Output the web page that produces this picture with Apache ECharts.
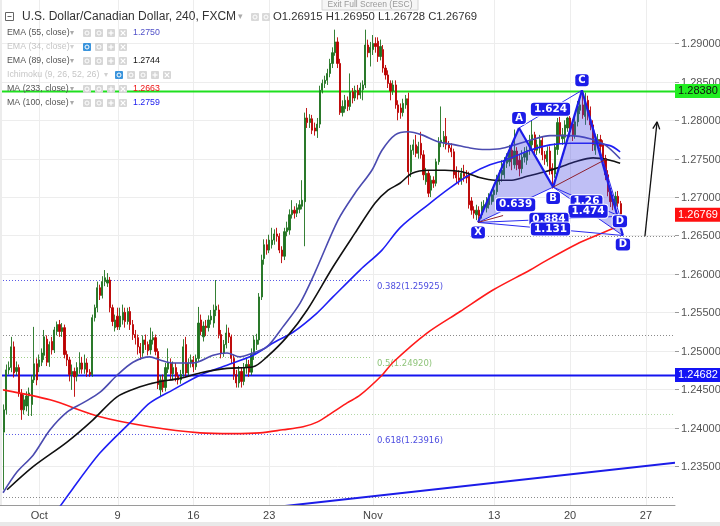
<!DOCTYPE html>
<html><head><meta charset="utf-8">
<script src="https://cdn.jsdelivr.net/npm/echarts@6/dist/echarts.min.js"></script>
<style>html,body{margin:0;padding:0;background:#fff}#c{width:720px;height:526px}</style>
</head><body><div id="c"></div>
<script>
// ---------- DATA ----------
const dateLabels = ['Oct','9','16','23','Nov','13','20','27'];
const dateIndex  = [15,46,76,106,147,195,225,255];
const barCount = 267;
const yTicks = [1.235,1.24,1.245,1.25,1.255,1.26,1.265,1.27,1.275,1.28,1.285,1.29];

const opens = [1.2394,1.2423,1.2475,1.2478,1.2505,1.2473,1.2478,1.2444,1.2423,1.2428,
1.2441,1.2430,1.2462,1.2483,1.2479,1.2485,1.2494,1.2515,1.2485,1.2512,
1.2501,1.2525,1.2534,1.2525,1.2530,1.2495,1.2488,1.2469,1.2473,1.2467,
1.2476,1.2484,1.2476,1.2484,1.2472,1.2469,1.2543,1.2556,1.2582,1.2572,
1.2590,1.2588,1.2592,1.2556,1.2530,1.2545,1.2531,1.2540,1.2550,1.2538,
1.2551,1.2534,1.2521,1.2517,1.2505,1.2497,1.2514,1.2508,1.2501,1.2514,
1.2517,1.2499,1.2449,1.2462,1.2452,1.2476,1.2484,1.2470,1.2478,1.2467,
1.2462,1.2470,1.2508,1.2471,1.2484,1.2488,1.2479,1.2490,1.2540,1.2518,
1.2532,1.2530,1.2540,1.2536,1.2553,1.2553,1.2521,1.2497,1.2508,1.2523,
1.2518,1.2490,1.2469,1.2458,1.2473,1.2460,1.2478,1.2482,1.2472,1.2495,
1.2508,1.2514,1.2570,1.2620,1.2638,1.2631,1.2638,1.2644,1.2652,1.2649,
1.2631,1.2623,1.2655,1.2657,1.2677,1.2683,1.2679,1.2684,1.2688,1.2694,
1.2803,1.2797,1.2802,1.2790,1.2786,1.2795,1.2839,1.2848,1.2852,1.2861,
1.2874,1.2888,1.2902,1.2874,1.2810,1.2815,1.2826,1.2818,1.2837,1.2829,
1.2839,1.2833,1.2840,1.2846,1.2898,1.2888,1.2892,1.2900,1.2903,1.2883,
1.2892,1.2868,1.2859,1.2848,1.2838,1.2846,1.2820,1.2816,1.2810,1.2820,
1.2828,1.2733,1.2761,1.2768,1.2757,1.2770,1.2755,1.2720,1.2731,1.2709,
1.2722,1.2718,1.2746,1.2771,1.2770,1.2779,1.2768,1.2764,1.2759,1.2733,
1.2725,1.2722,1.2731,1.2727,1.2729,1.2695,1.2683,1.2677,1.2683,1.2677,
1.2685,1.2686,1.2690,1.2694,1.2703,1.2707,1.2720,1.2729,1.2729,1.2744,
1.2746,1.2761,1.2742,1.2760,1.2748,1.2737,1.2752,1.2748,1.2761,1.2768,
1.2781,1.2761,1.2764,1.2774,1.2755,1.2746,1.2760,1.2738,1.2730,1.2762,
1.2797,1.2776,1.2778,1.2790,1.2803,1.2795,1.2781,1.2798,1.2813,1.2820,
1.2805,1.2826,1.2813,1.2794,1.2761,1.2770,1.2775,1.2768,1.2750,1.2729,
1.2707,1.2697,1.2690,1.2701,1.26915];

const closes = [1.2423,1.2475,1.2478,1.2505,1.2471,1.2478,1.2444,1.2423,1.2436,1.2441,
1.2445,1.2462,1.2483,1.2462,1.2488,1.2497,1.2518,1.2485,1.2508,1.2501,
1.2527,1.2534,1.2525,1.2530,1.2495,1.2488,1.2469,1.2473,1.2466,1.2478,
1.2484,1.2476,1.2484,1.2472,1.2469,1.2543,1.2556,1.2582,1.2572,1.2590,
1.2595,1.2592,1.2556,1.2538,1.2540,1.2531,1.2545,1.2550,1.2538,1.2551,
1.2534,1.2521,1.2517,1.2505,1.2497,1.2514,1.2508,1.2500,1.2514,1.2517,
1.2499,1.2456,1.2462,1.2452,1.2478,1.2484,1.2470,1.2478,1.2467,1.2462,
1.2469,1.2505,1.2471,1.2484,1.2488,1.2479,1.2490,1.2536,1.2525,1.2532,
1.2530,1.2540,1.2545,1.2553,1.2558,1.2521,1.2497,1.2508,1.2523,1.2518,
1.2490,1.2469,1.2458,1.2473,1.2460,1.2478,1.2482,1.2472,1.2495,1.2514,
1.2514,1.2570,1.2618,1.2638,1.2631,1.2644,1.2644,1.2652,1.2649,1.2631,
1.2623,1.2655,1.2660,1.2677,1.2683,1.2679,1.2686,1.2690,1.2696,1.2803,
1.2797,1.2802,1.2787,1.2786,1.2795,1.2839,1.2848,1.2852,1.2861,1.2874,
1.2888,1.2902,1.2874,1.2810,1.2818,1.2826,1.2818,1.2837,1.2829,1.2839,
1.2833,1.2842,1.2846,1.2898,1.2888,1.2895,1.2900,1.2896,1.2883,1.2896,
1.2868,1.2859,1.2848,1.2838,1.2846,1.2820,1.2810,1.2810,1.2822,1.2828,
1.2733,1.2761,1.2768,1.2757,1.2766,1.2755,1.2729,1.2731,1.2705,1.2722,
1.2718,1.2746,1.2771,1.2774,1.2779,1.2768,1.2764,1.2759,1.2729,1.2725,
1.2722,1.2731,1.2727,1.2725,1.2690,1.2683,1.2679,1.2683,1.2675,1.2688,
1.2690,1.2694,1.2699,1.2703,1.2709,1.2722,1.2729,1.2735,1.2746,1.2751,
1.2761,1.2750,1.2760,1.2742,1.2737,1.2752,1.2757,1.2761,1.2774,1.2781,
1.2761,1.2768,1.2774,1.2755,1.2750,1.2760,1.2735,1.2730,1.2765,1.2797,
1.2781,1.2781,1.2794,1.2803,1.2785,1.2781,1.2798,1.2818,1.2820,1.2807,
1.2826,1.2810,1.2794,1.2768,1.2774,1.2775,1.2766,1.2750,1.2729,1.2707,
1.2694,1.2690,1.2701,1.2692,1.26769];

const lows = [1.2319,1.2417,1.2469,1.2472,1.2465,1.2468,1.2440,1.2410,1.2417,1.2421,
1.2415,1.2415,1.2458,1.2455,1.2472,1.2480,1.2488,1.2480,1.2479,1.2495,
1.2497,1.2520,1.2518,1.2518,1.2490,1.2480,1.2460,1.2449,1.2440,1.2460,
1.2470,1.2470,1.2470,1.2466,1.2466,1.2466,1.2538,1.2550,1.2566,1.2568,
1.2584,1.2583,1.2550,1.2532,1.2525,1.2527,1.2527,1.2534,1.2530,1.2534,
1.2527,1.2514,1.2508,1.2495,1.2488,1.2492,1.2501,1.2494,1.2495,1.2508,
1.2494,1.2450,1.2440,1.2446,1.2447,1.2471,1.2462,1.2463,1.2460,1.2456,
1.2457,1.2466,1.2466,1.2466,1.2478,1.2472,1.2475,1.2486,1.2520,1.2512,
1.2519,1.2525,1.2534,1.2530,1.2545,1.2516,1.2490,1.2492,1.2503,1.2510,
1.2484,1.2462,1.2452,1.2452,1.2452,1.2455,1.2470,1.2466,1.2468,1.2488,
1.2501,1.2508,1.2566,1.2612,1.2625,1.2627,1.2633,1.2638,1.2642,1.2627,
1.2614,1.2618,1.2649,1.2651,1.2672,1.2672,1.2674,1.2679,1.2684,1.2636,
1.2790,1.2790,1.2782,1.2780,1.2777,1.2790,1.2835,1.2842,1.2846,1.2856,
1.2868,1.2884,1.2868,1.2807,1.2805,1.2810,1.2812,1.2813,1.2822,1.2825,
1.2827,1.2828,1.2826,1.2842,1.2882,1.2870,1.2885,1.2888,1.2876,1.2878,
1.2862,1.2853,1.2842,1.2826,1.2833,1.2815,1.2800,1.2802,1.2805,1.2815,
1.2716,1.2726,1.2755,1.2752,1.2750,1.2750,1.2722,1.2716,1.2700,1.2700,
1.2712,1.2714,1.2742,1.2765,1.2765,1.2762,1.2758,1.2752,1.2724,1.2718,
1.2716,1.2716,1.2720,1.2718,1.2685,1.2677,1.2672,1.2670,1.2667,1.2672,
1.2681,1.2680,1.2685,1.2690,1.2694,1.2703,1.2716,1.2720,1.2724,1.2738,
1.2740,1.2735,1.2737,1.2735,1.2727,1.2731,1.2745,1.2742,1.2755,1.2762,
1.2755,1.2755,1.2757,1.2748,1.2742,1.2740,1.2729,1.2711,1.2725,1.2755,
1.2770,1.2768,1.2770,1.2785,1.2778,1.2773,1.2776,1.2792,1.2808,1.2802,
1.2794,1.2800,1.2787,1.2760,1.2755,1.2764,1.2758,1.2744,1.2722,1.2701,
1.2687,1.2683,1.2685,1.2687,1.26728];

const highs = [1.2430,1.2482,1.2486,1.2518,1.2512,1.2486,1.2482,1.2450,1.2443,1.2447,
1.2452,1.2468,1.2531,1.2490,1.2495,1.2503,1.2527,1.2520,1.2512,1.2518,
1.2531,1.2538,1.2540,1.2536,1.2534,1.2500,1.2492,1.2482,1.2478,1.2485,
1.2498,1.2492,1.2495,1.2490,1.2476,1.2547,1.2560,1.2590,1.2586,1.2597,
1.2605,1.2601,1.2596,1.2560,1.2547,1.2556,1.2556,1.2560,1.2556,1.2556,
1.2557,1.2540,1.2527,1.2521,1.2510,1.2520,1.2521,1.2512,1.2530,1.2525,
1.2521,1.2503,1.2468,1.2469,1.2484,1.2503,1.2490,1.2486,1.2484,1.2472,
1.2475,1.2515,1.2518,1.2490,1.2495,1.2493,1.2495,1.2557,1.2547,1.2538,
1.2540,1.2546,1.2553,1.2560,1.2592,1.2560,1.2527,1.2514,1.2534,1.2530,
1.2521,1.2495,1.2475,1.2480,1.2478,1.2484,1.2490,1.2488,1.2503,1.2520,
1.2522,1.2575,1.2625,1.2645,1.2645,1.2651,1.2660,1.2658,1.2660,1.2653,
1.2636,1.2660,1.2668,1.2684,1.2696,1.2688,1.2692,1.2696,1.2722,1.2810,
1.2816,1.2808,1.2807,1.2797,1.2803,1.2845,1.2853,1.2858,1.2867,1.2880,
1.2895,1.2918,1.2908,1.2880,1.2826,1.2833,1.2831,1.2861,1.2842,1.2845,
1.2846,1.2849,1.2852,1.2918,1.2905,1.2902,1.2911,1.2908,1.2908,1.2905,
1.2898,1.2872,1.2865,1.2852,1.2852,1.2852,1.2826,1.2822,1.2828,1.2833,
1.2836,1.2768,1.2775,1.2781,1.2772,1.2785,1.2761,1.2738,1.2735,1.2728,
1.2727,1.2750,1.2778,1.2818,1.2786,1.2803,1.2773,1.2770,1.2763,1.2740,
1.2735,1.2738,1.2742,1.2735,1.2733,1.2700,1.2688,1.2690,1.2688,1.2694,
1.2696,1.2700,1.2705,1.2710,1.2716,1.2729,1.2735,1.2748,1.2752,1.2757,
1.2768,1.2768,1.2788,1.2765,1.2755,1.2761,1.2765,1.2766,1.2781,1.2800,
1.2785,1.2775,1.2781,1.2779,1.2760,1.2766,1.2766,1.2744,1.2770,1.2803,
1.2805,1.2790,1.2800,1.2810,1.2810,1.2801,1.2805,1.2825,1.2830,1.2839,
1.2836,1.2832,1.2818,1.2800,1.2781,1.2782,1.2781,1.2774,1.2755,1.2735,
1.2712,1.2703,1.2707,1.2708,1.2695];

// moving averages: [bar index, price]
const ema55 = [[0.7,1.2315],[6.2,1.2342],[12.6,1.2364],[19.3,1.2397],[26,1.2420],[32.3,1.2432],[39.1,1.2446],[45.8,1.2468],[52.1,1.2485],[58.8,1.2492],[62.8,1.2488],[67.9,1.2484],[75.8,1.2484],[83.8,1.2494],[89.3,1.2497],[94.4,1.2492],[99.6,1.2497],[105.1,1.2505],[111.4,1.2531],[118.2,1.2562],[124.1,1.2602],[133.2,1.2670],[139.9,1.2705],[146.6,1.2735],[150.6,1.2761],[155.8,1.2781],[160.9,1.2785],[166.4,1.2781],[172.8,1.2772],[179.5,1.2768],[185.4,1.2764],[191.4,1.2762],[197.3,1.2763],[203.2,1.2768],[209.2,1.2774],[217.1,1.2780],[225,1.2780],[232.9,1.2776],[238.8,1.2768],[244.8,1.2750]];
const ema89 = [[2.3,1.2319],[12.6,1.2349],[26,1.2381],[36.3,1.2410],[45.8,1.2440],[54.9,1.2453],[61.6,1.2459],[70.7,1.2464],[78.6,1.2471],[89.3,1.2477],[99.6,1.2479],[105.1,1.2492],[113,1.2518],[121,1.2553],[131.2,1.2609],[139.9,1.2653],[147.8,1.2692],[153,1.2709],[157.7,1.2718],[162.5,1.2731],[168.8,1.2735],[175.5,1.2735],[182.3,1.2733],[188.6,1.2726],[195.3,1.2722],[202,1.2722],[208,1.2727],[215.1,1.2733],[221,1.2739],[227,1.2746],[234.1,1.2751],[240.8,1.2748],[244.8,1.2744]];
const ma100 = [[19.3,1.2279],[28,1.2319],[39.1,1.2367],[52.1,1.2410],[58.8,1.2432],[67.9,1.2449],[78.6,1.2468],[89.3,1.2481],[99.6,1.2494],[107.5,1.2510],[115.4,1.2524],[124.9,1.2549],[131.2,1.2570],[141.9,1.2605],[150.6,1.2631],[157.7,1.2660],[168.8,1.2690],[177.5,1.2712],[186.2,1.2731],[193.3,1.2742],[199.3,1.2748],[209.2,1.2761],[217.1,1.2768],[225,1.2770],[234.1,1.2770],[240.8,1.2767],[244.8,1.2759]];
const ma233 = [[0.7,1.2449],[19.3,1.2436],[39.1,1.2414],[58.8,1.2401],[78.6,1.2393],[91.7,1.2392],[102.3,1.2393],[111.4,1.2397],[119.4,1.2401],[124.9,1.2407],[131.2,1.2420],[136.8,1.2432],[141.9,1.2442],[150.6,1.2468],[155,1.2485],[168.4,1.2523],[181.5,1.2551],[194.5,1.2579],[209.2,1.2605],[214.3,1.2615],[227.7,1.2639],[236.8,1.2652],[244.8,1.2663]];

// drawings
const keyLevels = [1.28380, 1.24682];
const fibRatios = ['0.382','0.5','0.618'];
const fibPrices = [1.25925, 1.24920, 1.23916];
const grayDotted = [1.2520, 1.2309];
const grayDottedPartial = [1.2649];
const greenDotted = [1.2417];
const patternNames = ['X','A','B','C','D'];
const patternIdx   = [188.6, 204.8, 218.3, 229.7, 245.9];
const patternPrice = [1.2667, 1.2790, 1.2713, 1.2839, 1.2650];
const altD = [244.7, 1.2675];
const ratioLabels = ['0.639','1.624','1.26','1.474','0.884','1.131'];
const trendLine = [[110, 1.2297],[266.5, 1.2354]];
const arrowLine = [[254.6, 1.2649],[259.4, 1.2798]];
const maroonLines = [[[188.6,1.2667],[198.5,1.2676]], [[218.3,1.2713],[239.6,1.2750]]];

// ---------- CHART ----------
const yMin = 1.22991, yMax = 1.29566;
const categories = Array.from({length: barCount}, (_, i) => { const j = dateIndex.indexOf(i); return j >= 0 ? dateLabels[j] : ''; });
const candleData = opens.map((o, k) => [k + 1, o, closes[k], lows[k], highs[k]]);
const last = closes.length - 1;

const BLUE = '#1c1ce8';
function L(a, b, stroke, w, dash) { return {type:'line', shape:{x1:a[0], y1:a[1], x2:b[0], y2:b[1]}, style:{stroke, lineWidth:w, lineDash:dash||null}}; }

function bgRender(params, api) {
  const cs = params.coordSys, ch = [];
  yTicks.forEach(v => { const y = Math.round(api.coord([0, v])[1]) + 0.5; ch.push(L([cs.x, y], [cs.x + cs.width, y], '#ededed', 1)); });
  dateIndex.forEach(i => { const x = Math.round(api.coord([i, yMin])[0]) + 0.5; ch.push(L([x, cs.y], [x, cs.y + cs.height], '#ededed', 1)); });
  return {type:'group', children: ch};
}
function dottedRender(params, api) {
  const cs = params.coordSys, ch = [];
  const right = cs.x + cs.width, left = cs.x;
  const hy = v => Math.round(api.coord([0, v])[1]) + 0.5;
  grayDotted.forEach(v => ch.push(L([left, hy(v)], [right, hy(v)], '#8a8a8a', 1, [1, 2])));
  grayDottedPartial.forEach(v => { const x0 = api.coord([185.4, v])[0]; ch.push(L([x0, hy(v)], [right, hy(v)], '#8a8a8a', 1, [1, 2])); });
  greenDotted.forEach(v => ch.push(L([left, hy(v)], [right, hy(v)], '#b5d9a8', 1, [1, 2])));
  const fibEnd = api.coord([146.6, 0])[0];
  const fibCol = ['#5a5ae6', '#9fcf88', '#5a5ae6'];
  fibPrices.forEach((v, k) => {
    ch.push(L([left, hy(v)], [fibEnd, hy(v)], fibCol[k], 1, [1, 2]));
    ch.push({type:'text', x: fibEnd + 5, y: hy(v) + 6, style:{text: fibRatios[k] + '(' + v.toFixed(5) + ')', fill: fibCol[k] === '#9fcf88' ? '#8fc47a' : '#4d4de0', font:'8.5px "DejaVu Sans"', align:'left', verticalAlign:'middle'}});
  });
  keyLevels.forEach((v, k) => ch.push(L([left, hy(v)], [right, hy(v)], k === 0 ? '#1fe01f' : '#1414f0', 2)));
  const t0 = api.coord(trendLine[0]), t1 = api.coord(trendLine[1]);
  ch.push(L(t0, t1, BLUE, 2));
  return {type:'group', children: ch};
}
function patternRender(params, api) {
  const ch = [];
  const P = patternIdx.map((x, k) => api.coord([x, patternPrice[k]]));
  const [X, A, B, C, D] = P;
  const D1 = api.coord(altD);
  const fill = 'rgba(60,60,225,0.33)';
  ch.push({type:'polygon', shape:{points:[X, A, B]}, style:{fill}});
  ch.push({type:'polygon', shape:{points:[B, C, D]}, style:{fill}});
  [[X,B],[A,C],[B,D],[B,D1],[X,D],[X,D1],[C,D1]].forEach(s => ch.push(L(s[0], s[1], '#2b2bef', 1)));
  [[X,A],[A,B],[B,C],[C,D]].forEach(s => ch.push(L(s[0], s[1], BLUE, 2.2)));
  maroonLines.forEach(s => ch.push(L(api.coord(s[0]), api.coord(s[1]), '#8e1f2e', 1)));
  const a0 = api.coord(arrowLine[0]), a1 = api.coord(arrowLine[1]);
  ch.push(L(a0, a1, '#111', 1.3));
  const ang = Math.atan2(a1[1] - a0[1], a1[0] - a0[0]);
  [0.45, -0.45].forEach(d => ch.push(L(a1, [a1[0] - 8 * Math.cos(ang + d), a1[1] - 8 * Math.sin(ang + d)], '#111', 1.3)));
  const box = (pt, text, dy, size) => ({type:'text', x: pt[0], y: pt[1] + dy, style:{text, fill:'#fff', font:'bold ' + size + 'px "DejaVu Sans"', align:'center', verticalAlign:'middle', backgroundColor: BLUE, borderColor:'#fff', borderWidth:1, padding:[1, 3, 1, 3], borderRadius:3}});
  const offs = [10, -10, 11, -10, 9];
  P.forEach((p, k) => ch.push(box(p, patternNames[k], offs[k], 10)));
  ch.push(box(D1, 'D', 5, 10));
  const mid = (p, q) => [(p[0] + q[0]) / 2, (p[1] + q[1]) / 2];
  const pairs = [[X,B],[A,C],[B,D1],[B,D],[X,D1],[X,D]];
  pairs.forEach((s, k) => ch.push(box(mid(s[0], s[1]), ratioLabels[k], 0, 10.5)));
  return {type:'group', children: ch};
}
function axisRender(params, api) {
  const cs = params.coordSys, ch = [];
  const xr = cs.x + cs.width;
  yTicks.forEach(v => {
    const y = Math.round(api.coord([0, v])[1]) + 0.5;
    ch.push(L([xr, y], [xr + 4, y], '#999', 1));
    ch.push({type:'text', x: xr + 6, y, style:{text: v.toFixed(5), fill:'#555', font:'11px "Liberation Sans"', align:'left', verticalAlign:'middle'}});
  });
  const tag = (v, bg, fg) => {
    const y = api.coord([0, v])[1];
    ch.push({type:'rect', shape:{x: xr, y: y - 7, width: 46, height: 14}, style:{fill: bg}});
    ch.push({type:'text', x: xr + 23, y, style:{text: v.toFixed(5), fill: fg, font:'11px "Liberation Sans"', align:'center', verticalAlign:'middle'}});
  };
  tag(keyLevels[0], '#22ee22', '#111');
  tag(closes[last], '#ff1010', '#fff');
  tag(keyLevels[1], '#1414f5', '#fff');
  return {type:'group', children: ch};
}

// ---------- legend / header graphics ----------
const g = [];
const T = (x, y, text, font, fill, align) => g.push({type:'text', x, y, z:100, style:{text, font, fill, align: align || 'left', verticalAlign:'middle'}});
const icon = (x, y, fill, glyph) => {
  g.push({type:'rect', z:100, shape:{x, y: y - 4, width: 8, height: 8, r: 1}, style:{fill}});
  const cx = x + 4, cy = y;
  if (glyph === 'plus') { g.push({type:'line', z:101, shape:{x1:cx-2.5,y1:cy,x2:cx+2.5,y2:cy}, style:{stroke:'#fff', lineWidth:1.2}}); g.push({type:'line', z:101, shape:{x1:cx,y1:cy-2.5,x2:cx,y2:cy+2.5}, style:{stroke:'#fff', lineWidth:1.2}}); }
  else if (glyph === 'x') { g.push({type:'line', z:101, shape:{x1:cx-2.3,y1:cy-2.3,x2:cx+2.3,y2:cy+2.3}, style:{stroke:'#fff', lineWidth:1.2}}); g.push({type:'line', z:101, shape:{x1:cx-2.3,y1:cy+2.3,x2:cx+2.3,y2:cy-2.3}, style:{stroke:'#fff', lineWidth:1.2}}); }
  else { g.push({type:'circle', z:101, shape:{cx, cy, r: 2}, style:{fill:'none', stroke:'#fff', lineWidth:1}}); }
};
g.push({type:'rect', z:100, shape:{x:322, y:-1, width:96, height:11}, style:{fill:'#f6f6f6', stroke:'#d4d4d4'}});
T(370, 5, 'Exit Full Screen (ESC)', '8.5px "Liberation Sans"', '#999', 'center');
g.push({type:'rect', z:100, shape:{x:5.5, y:12.5, width:8, height:8}, style:{fill:'none', stroke:'#666'}});
g.push({type:'line', z:100, shape:{x1:7.5, y1:16.5, x2:11.5, y2:16.5}, style:{stroke:'#666'}});
T(22, 17, 'U.S. Dollar/Canadian Dollar, 240, FXCM', '12px "Liberation Sans"', '#333');
T(238, 17, '▾', '9px "DejaVu Sans"', '#aaa');
icon(251, 17, '#d9d9d9', 'eye'); icon(262, 17, '#d9d9d9', 'gear');
T(273, 17, 'O' + opens[last].toFixed(5) + ' H' + highs[last].toFixed(5) + ' L' + lows[last].toFixed(5) + ' C' + closes[last].toFixed(5), '11.3px "Liberation Sans"', '#333');
const LF = '8.8px "Liberation Sans"';
const rowIcons = (y, firstFill, startX, n) => { const glyphs = ['eye','gear','plus','x','x']; for (let k = 0; k < n; k++) icon(startX + 12 * k, y, k === 0 ? firstFill : '#d6d6d6', n === 5 && k === 2 ? 'paren' : glyphs[k >= 2 && n === 5 ? k - 1 : k]); };
const rows = [
  {y:33, text:'EMA (55, close)', col:'#555', val: ema55[ema55.length - 1][1].toFixed(4), vcol:'#5050c8', hidden:false},
  {y:47, text:'EMA (34, close)', col:'#c6c6c6', val:'', hidden:true},
  {y:61, text:'EMA (89, close)', col:'#555', val: ema89[ema89.length - 1][1].toFixed(4), vcol:'#111', hidden:false},
  {y:89, text:'MA (233, close)', col:'#555', val: ma233[ma233.length - 1][1].toFixed(4), vcol:'#ee1111', hidden:false},
  {y:103, text:'MA (100, close)', col:'#555', val: ma100[ma100.length - 1][1].toFixed(4), vcol:'#2020ee', hidden:false}
];
rows.forEach(r => {
  T(7, r.y, r.text, LF, r.col);
  T(70, r.y, '▾', '8px "DejaVu Sans"', r.hidden ? '#d0d0d0' : '#aaa');
  rowIcons(r.y, r.hidden ? '#3a94dc' : '#d6d6d6', 83, 4);
  if (r.val) T(133, r.y, r.val, LF, r.vcol);
});
T(7, 75, 'Ichimoku (9, 26, 52, 26)', LF, '#c6c6c6');
T(104, 75, '▾', '8px "DejaVu Sans"', '#d0d0d0');
rowIcons(75, '#3a94dc', 115, 5);
g.push({type:'rect', z:100, shape:{x:0, y:522, width:720, height:4}, style:{fill:'#e9e9e9'}});
g.push({type:'rect', z:100, shape:{x:0, y:0, width:2, height:505}, style:{fill:'#ececec'}});

const labelInterval = (i, v) => v !== '';
const chart = echarts.init(document.getElementById('c'), null, {renderer:'canvas'});
chart.setOption({
  animation: false,
  backgroundColor: '#fff',
  grid: {left: 0, right: 45, top: 0, bottom: 21, containLabel: false},
  xAxis: [
    {type:'category', data: categories, boundaryGap: true,
     axisLine:{lineStyle:{color:'#9a9a9a'}},
     axisTick:{alignWithLabel:true, interval: labelInterval, length:4, lineStyle:{color:'#9a9a9a'}},
     axisLabel:{interval: labelInterval, color:'#444', fontSize:11, fontFamily:'Liberation Sans', margin:5},
     splitLine:{show:false}},
    {type:'value', min:-0.5, max: barCount - 0.5, show:false}
  ],
  yAxis: {type:'value', position:'right', min:yMin, max:yMax, scale:true,
    axisLine:{show:true, lineStyle:{color:'#9a9a9a'}}, axisTick:{show:false}, axisLabel:{show:false}, splitLine:{show:false}},
  graphic: g,
  series: [
    {type:'custom', xAxisIndex:1, data:[[0, 1.26]], encode:{x:0, y:1}, z:0, silent:true, clip:false, renderItem: bgRender},
    {type:'custom', xAxisIndex:1, data:[[0, 1.26]], encode:{x:0, y:1}, z:1, silent:true, clip:true, renderItem: dottedRender},
    {type:'candlestick', xAxisIndex:0, data: candleData, encode:{x:0, y:[1,2,3,4]}, barWidth: 1.7, z:3, silent:true,
     itemStyle:{color:'#1f721f', color0:'#bb0000', borderColor:'#1f721f', borderColor0:'#bb0000', borderWidth:0.9}},
    {type:'line', xAxisIndex:1, data: ma233, symbol:'none', smooth:0.3, z:4, silent:true, lineStyle:{color:'#ff1a1a', width:1.6}},
    {type:'line', xAxisIndex:1, data: ma100, symbol:'none', smooth:0.3, z:4, silent:true, lineStyle:{color:'#1f1ff5', width:1.6}},
    {type:'line', xAxisIndex:1, data: ema89, symbol:'none', smooth:0.3, z:4, silent:true, lineStyle:{color:'#111', width:1.6}},
    {type:'line', xAxisIndex:1, data: ema55, symbol:'none', smooth:0.3, z:4, silent:true, lineStyle:{color:'#4b4bb0', width:1.6}},
    {type:'custom', xAxisIndex:1, data:[[0, 1.26]], encode:{x:0, y:1}, z:6, silent:true, clip:false, renderItem: patternRender},
    {type:'custom', xAxisIndex:1, data:[[0, 1.26]], encode:{x:0, y:1}, z:10, silent:true, clip:false, renderItem: axisRender}
  ]
});
</script>
</body></html>
